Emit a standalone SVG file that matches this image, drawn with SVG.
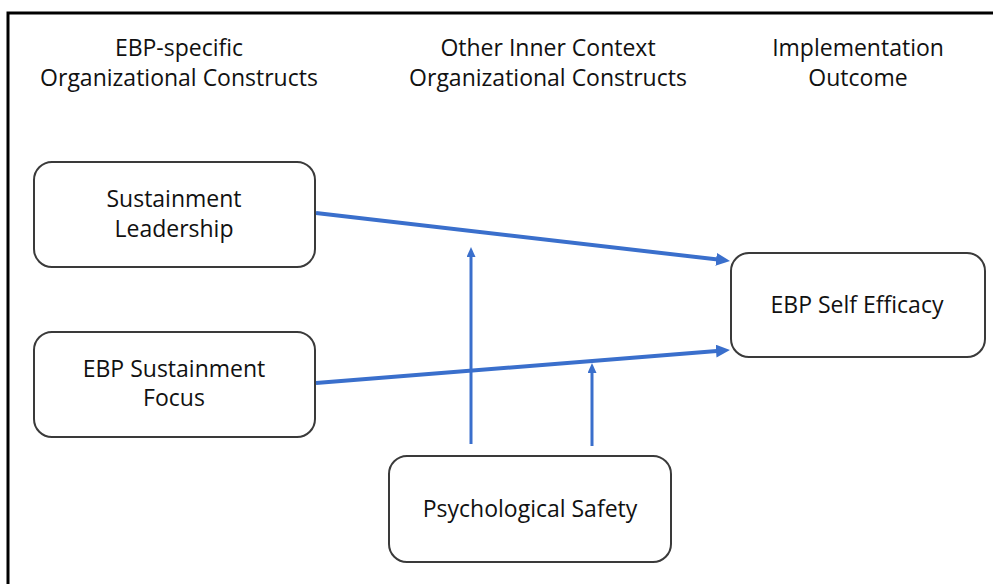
<svg xmlns="http://www.w3.org/2000/svg" width="993" height="584" viewBox="0 0 993 584">
<defs>
<style>
.frame{fill:none;stroke:#000;stroke-width:3}
.box{fill:#fff;stroke:#3a3a3a;stroke-width:2}
.lbl{font-family:"Open Sans","Liberation Sans",sans-serif;font-size:23px;fill:#111;text-anchor:middle}
.hdr{font-family:"Open Sans","Liberation Sans",sans-serif;font-size:23px;fill:#111;text-anchor:middle}
.main{fill:none;stroke:#3a6fcc;stroke-width:4}
.mod{fill:none;stroke:#3a6fcc;stroke-width:3}
</style>
<marker id="ah" markerUnits="userSpaceOnUse" markerWidth="16" markerHeight="14" refX="4" refY="6.5" orient="auto">
<path d="M0,0 L14,6.5 L0,13 z" fill="#3a6fcc"/>
</marker>
<marker id="ahs" markerUnits="userSpaceOnUse" markerWidth="12" markerHeight="10" refX="3" refY="4.5" orient="auto">
<path d="M0,0 L10,4.5 L0,9 z" fill="#3a6fcc"/>
</marker>
</defs>
<rect width="993" height="584" fill="#fff"/>
<path class="frame" d="M8,590 L8,13 L1000,13"/>
<g id="headers">
<text class="hdr" x="179" y="56">EBP-specific</text>
<text class="hdr" x="179" y="86">Organizational Constructs</text>
<text class="hdr" x="548" y="56">Other Inner Context</text>
<text class="hdr" x="548" y="86">Organizational Constructs</text>
<text class="hdr" x="858" y="56">Implementation</text>
<text class="hdr" x="858" y="86">Outcome</text>
</g>
<g id="connectors">
<line class="main" x1="316" y1="213" x2="720.1" y2="259.8" marker-end="url(#ah)"/>
<line class="main" x1="316" y1="383" x2="720" y2="350.8" marker-end="url(#ah)"/>
<line class="mod" x1="471" y1="444" x2="471" y2="254" marker-end="url(#ahs)"/>
<line class="mod" x1="592" y1="446" x2="592" y2="370" marker-end="url(#ahs)"/>
</g>
<g id="sustainment-leadership">
<rect class="box" x="34" y="162" width="281" height="105" rx="18"/>
<text class="lbl" x="174" y="207">Sustainment</text>
<text class="lbl" x="174" y="237">Leadership</text>
</g>
<g id="ebp-sustainment-focus">
<rect class="box" x="34" y="332" width="281" height="105" rx="18"/>
<text class="lbl" x="174" y="377">EBP Sustainment</text>
<text class="lbl" x="174" y="406">Focus</text>
</g>
<g id="ebp-self-efficacy">
<rect class="box" x="731" y="253" width="254" height="104" rx="18"/>
<text class="lbl" x="857" y="313">EBP Self Efficacy</text>
</g>
<g id="psychological-safety">
<rect class="box" x="389" y="456" width="282" height="106" rx="18"/>
<text class="lbl" x="530" y="517">Psychological Safety</text>
</g>
</svg>
